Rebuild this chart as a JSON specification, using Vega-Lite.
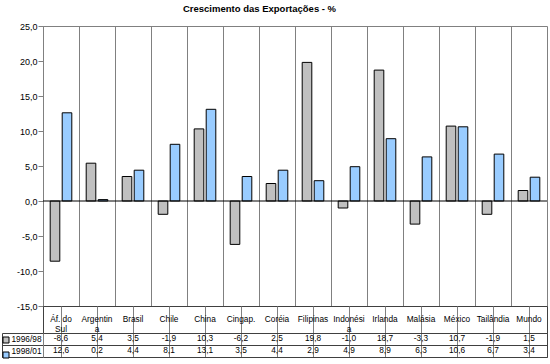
{
  "$schema": "https://vega.github.io/schema/vega-lite/v6.json",
  "padding": {"left": 1, "top": 4, "right": 0, "bottom": 0},
  "title": {"text": "Crescimento das Exportações - %", "font": "Liberation Sans", "fontSize": 9.5, "fontWeight": "bold", "anchor": "middle", "dx": -15, "offset": 8, "color": "#000"},
  "config": {
    "locale": {"number": {"decimal": ",", "thousands": ".", "grouping": [3], "currency": ["", ""], "minus": "-"}},
    "view": {"stroke": null},
    "font": "Liberation Sans",
    "text": {"font": "Liberation Sans", "fontSize": 8.3, "color": "#000"},
    "axis": {"labelFont": "Liberation Sans", "labelColor": "#000", "gridOpacity": 1, "labelOverlap": false, "labelBound": false}
  },
  "datasets": {
    "exp": [
      {"pais": "Áf. do Sul", "rotulo": "Áf. do\nSul", "periodo": "1996/98", "valor": -8.6},
      {"pais": "Áf. do Sul", "rotulo": "Áf. do\nSul", "periodo": "1998/01", "valor": 12.6},
      {"pais": "Argentina", "rotulo": "Argentin\na", "periodo": "1996/98", "valor": 5.4},
      {"pais": "Argentina", "rotulo": "Argentin\na", "periodo": "1998/01", "valor": 0.2},
      {"pais": "Brasil", "rotulo": "Brasil", "periodo": "1996/98", "valor": 3.5},
      {"pais": "Brasil", "rotulo": "Brasil", "periodo": "1998/01", "valor": 4.4},
      {"pais": "Chile", "rotulo": "Chile", "periodo": "1996/98", "valor": -1.9},
      {"pais": "Chile", "rotulo": "Chile", "periodo": "1998/01", "valor": 8.1},
      {"pais": "China", "rotulo": "China", "periodo": "1996/98", "valor": 10.3},
      {"pais": "China", "rotulo": "China", "periodo": "1998/01", "valor": 13.1},
      {"pais": "Cingap.", "rotulo": "Cingap.", "periodo": "1996/98", "valor": -6.2},
      {"pais": "Cingap.", "rotulo": "Cingap.", "periodo": "1998/01", "valor": 3.5},
      {"pais": "Coréia", "rotulo": "Coréia", "periodo": "1996/98", "valor": 2.5},
      {"pais": "Coréia", "rotulo": "Coréia", "periodo": "1998/01", "valor": 4.4},
      {"pais": "Filipinas", "rotulo": "Filipinas", "periodo": "1996/98", "valor": 19.8},
      {"pais": "Filipinas", "rotulo": "Filipinas", "periodo": "1998/01", "valor": 2.9},
      {"pais": "Indonésia", "rotulo": "Indonési\na", "periodo": "1996/98", "valor": -1.0},
      {"pais": "Indonésia", "rotulo": "Indonési\na", "periodo": "1998/01", "valor": 4.9},
      {"pais": "Irlanda", "rotulo": "Irlanda", "periodo": "1996/98", "valor": 18.7},
      {"pais": "Irlanda", "rotulo": "Irlanda", "periodo": "1998/01", "valor": 8.9},
      {"pais": "Malásia", "rotulo": "Malásia", "periodo": "1996/98", "valor": -3.3},
      {"pais": "Malásia", "rotulo": "Malásia", "periodo": "1998/01", "valor": 6.3},
      {"pais": "México", "rotulo": "México", "periodo": "1996/98", "valor": 10.7},
      {"pais": "México", "rotulo": "México", "periodo": "1998/01", "valor": 10.6},
      {"pais": "Tailândia", "rotulo": "Tailândia", "periodo": "1996/98", "valor": -1.9},
      {"pais": "Tailândia", "rotulo": "Tailândia", "periodo": "1998/01", "valor": 6.7},
      {"pais": "Mundo", "rotulo": "Mundo", "periodo": "1996/98", "valor": 1.5},
      {"pais": "Mundo", "rotulo": "Mundo", "periodo": "1998/01", "valor": 3.4}
    ],
    "vazio": [{}]
  },
  "bounds": "flush",
  "spacing": 0,
  "vconcat": [
    {
      "data": {"name": "exp"},
      "width": 504, "height": 280,
      "view": {"stroke": "#808080"},
      "layer": [
        {
          "mark": {"type": "bar", "stroke": "#000", "strokeWidth": 1},
          "encoding": {
            "x": {"field": "pais", "type": "nominal", "sort": null,
                  "scale": {"paddingInner": 0, "paddingOuter": 0},
                  "axis": {"grid": true, "bandPosition": 0, "labels": false, "ticks": false, "domain": false, "title": null, "gridColor": "#808080"}},
            "xOffset": {"field": "periodo", "type": "nominal", "scale": {"paddingInner": 0.2, "paddingOuter": 0.6}},
            "y": {"field": "valor", "type": "quantitative",
                  "scale": {"domain": [-15, 25], "nice": false},
                  "axis": {"values": [-15, -10, -5, 0, 5, 10, 15, 20, 25], "format": ".1f", "labelFontSize": 9, "labelOverlap": false, "tickSize": 5, "tickColor": "#808080", "domainColor": "#808080", "grid": false, "title": null, "labelPadding": 1}},
            "color": {"field": "periodo", "type": "nominal",
                      "scale": {"domain": ["1996/98", "1998/01"], "range": ["#C0C0C0", "#99CCFF"]},
                      "legend": {"orient": "none", "legendX": -42, "legendY": 309, "title": null, "symbolType": "square", "symbolSize": 36, "symbolStrokeColor": "#000", "symbolStrokeWidth": 1, "symbolOpacity": 1, "labelExpr": "''", "rowPadding": 5, "padding": 0}}
          }
        },
        {
          "data": {"name": "vazio"},
          "mark": {"type": "rule", "color": "#000", "strokeWidth": 1},
          "encoding": {"y": {"datum": 0, "axis": {"values": [-15, -10, -5, 0, 5, 10, 15, 20, 25], "format": ".1f", "labelFontSize": 9, "labelOverlap": false, "tickSize": 5, "tickColor": "#808080", "domainColor": "#808080", "grid": false, "title": null, "labelPadding": 1}}}
        }
      ]
    },
    {
      "data": {"name": "exp"},
      "width": 504, "height": 27,
      "view": {"stroke": "#404040"},
      "transform": [{"filter": "datum.periodo === '1996/98'"}],
      "mark": {"type": "text", "lineBreak": "\n", "fontSize": 8.3, "lineHeight": 10, "baseline": "middle"},
      "encoding": {
        "x": {"field": "pais", "type": "nominal", "sort": null,
              "scale": {"paddingInner": 0, "paddingOuter": 0},
              "axis": {"grid": true, "bandPosition": 0, "labels": false, "ticks": false, "domain": false, "title": null, "gridColor": "#808080"}},
        "text": {"field": "rotulo"}
      }
    },
    {
      "data": {"name": "exp"},
      "width": 504, "height": 24,
      "view": {"stroke": "#404040"},
      "resolve": {"axis": {"y": "independent"}},
      "layer": [
        {
          "mark": {"type": "text", "fontSize": 8.3, "baseline": "middle"},
          "encoding": {
            "x": {"field": "pais", "type": "nominal", "sort": null,
                  "scale": {"paddingInner": 0, "paddingOuter": 0},
                  "axis": {"grid": true, "bandPosition": 0, "labels": false, "ticks": false, "domain": false, "title": null, "gridColor": "#808080"}},
            "y": {"field": "periodo", "type": "nominal", "sort": null,
                  "scale": {"paddingInner": 0, "paddingOuter": 0},
                  "axis": {"orient": "left", "tickBand": "extent", "ticks": true, "tickSize": 41, "tickColor": "#404040", "labels": true, "labelAlign": "left", "labelBaseline": "middle", "labelPadding": -9, "labelFontSize": 8.3, "domain": true, "domainColor": "#808080", "grid": true, "gridColor": "#404040", "title": null}},
            "text": {"field": "valor", "type": "quantitative", "format": ".1f"}
          }
        },
        {
          "data": {"name": "vazio"},
          "mark": {"type": "text"},
          "encoding": {
            "y": {"datum": "1996/98", "type": "nominal",
                  "axis": {"orient": "left", "offset": 41, "domain": true, "domainColor": "#404040", "labels": false, "ticks": false, "grid": false, "title": null}},
            "text": {"value": ""}
          }
        }
      ]
    }
  ]
}
